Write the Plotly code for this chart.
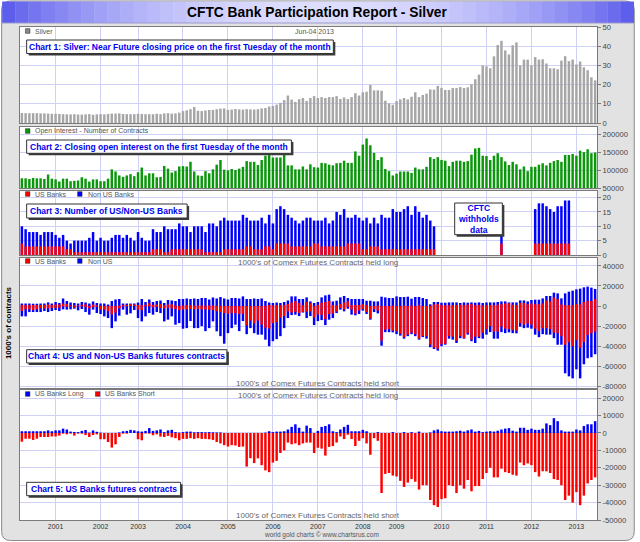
import math
import plotly.graph_objects as go

# ---------------- data ----------------
bars_per_year = [("2000", 9), ("2001", 12), ("2002", 10), ("2003", 12), ("2004", 12),
                 ("2005", 12), ("2006", 12), ("2007", 12), ("2008", 9), ("2009", 12),
                 ("2010", 12), ("2011", 12), ("2012", 12), ("2013", 6)]

silver_price = [
    5.2, 5.1, 5.1, 5.1, 5.1, 5.0, 5.0, 4.9, 4.8,
    4.8, 4.7, 4.6, 4.5, 4.5, 4.6, 4.4, 4.4, 4.5, 4.6, 4.3, 4.5,
    4.6, 4.5, 4.7, 4.9, 4.9, 5.0, 4.7, 4.6, 4.6, 4.6,
    4.8, 4.7, 4.6, 4.6, 4.6, 4.8, 4.6, 5.0, 5.1, 4.9, 5.0, 5.4,
    6.2, 6.6, 7.2, 8.3, 6.4, 6.2, 6.5, 6.8, 6.8, 7.2, 7.5, 7.6,
    6.8, 7.0, 7.3, 7.1, 7.0, 7.2, 7.1, 7.0, 7.2, 7.6, 7.8, 8.6,
    8.9, 9.6, 10.5, 11.9, 14.3, 12.2, 11.0, 12.4, 13.0, 11.5, 13.0, 14.0,
    13.0, 13.5, 13.0, 13.5, 13.5, 14.0, 12.5, 13.3, 12.5, 13.5, 15.5, 14.3,
    16.0, 16.3, 19.8, 17.0, 17.0, 16.8, 11.6, 10.2, 9.5,
    11.4, 12.3, 13.0, 12.3, 13.7, 16.0, 13.5, 14.6, 15.3, 17.5, 17.4, 19.3,
    18.3, 17.2, 17.2, 18.2, 18.2, 18.7, 18.2, 18.6, 20.2, 22.8, 25.2, 30.0,
    29.5, 28.5, 34.7, 40.6, 42.8, 37.8, 35.7, 40.5, 42.0, 30.0, 33.0, 33.0,
    30.0, 34.3, 33.0, 33.2, 31.0, 28.5, 28.5, 28.0, 32.5, 34.8, 32.2, 33.0,
    30.5, 32.0, 29.0, 27.5, 23.8, 22.2,
]

open_interest = [
    77000, 77000, 75000, 78000, 77000, 77000, 75000, 87500, 76000,
    74000, 68000, 76000, 76000, 69000, 70000, 71000, 80000, 76000, 68000, 74000, 74000,
    69000, 69000, 76000, 102000, 96000, 85000, 81000, 85000, 88500, 83000,
    94000, 107000, 85000, 91000, 91000, 80000, 81000, 111500, 104000, 93000, 97000, 110000,
    111000, 110000, 123000, 96000, 85000, 84000, 97000, 91000, 102000, 115000, 128000, 101000,
    99000, 103000, 100000, 104000, 109000, 125000, 123000, 123000, 114000, 128000, 140000, 144000,
    135000, 135000, 135000, 142000, 113000, 113000, 102000, 102000, 110000, 102000, 116000, 108000,
    107000, 120000, 119000, 115000, 113000, 119000, 120000, 126000, 120000, 120000, 152000, 140000,
    171000, 188000, 169000, 148000, 128000, 136000, 103000, 97000, 85000,
    90000, 96000, 96000, 96000, 92000, 107000, 102000, 102000, 109000, 136000, 131000, 136000,
    128000, 126000, 111000, 123000, 126000, 126000, 123000, 125000, 143000, 160000, 162000, 140000,
    139000, 128000, 140000, 147000, 136000, 124000, 114000, 123000, 116000, 102000, 110000, 97000,
    109000, 109000, 115000, 119000, 113000, 120000, 125000, 128000, 123000, 142000, 142000, 145000,
    140000, 154000, 150000, 158000, 147000, 149000,
]

N_ = None
all_banks_count = [
    10, 9, 8, 8, 8, 7, 8, 8, 8,
    7, 6, 7, 5, 4, 5, 5, 5, 5, 6, 8, 5,
    6, 5, 5, 6, 7, 7, 6, 7, 6, 5,
    8, 6, 5, 5, 9, 8, 8, 10, 9, 9, 9, 11,
    10, 10, 8, 10, 10, 10, 8, 11, 11, 10, 12, 13,
    12, 12, 12, 12, 14, 13, 12, 12, 12, 13, 11, 14,
    11, 16, 17, 16, 14, 13, 12, 11, 12, 13, 13, 12,
    12, 12, 13, 11, 12, 15, 14, 16, 13, 13, 14, 13,
    12, 13, 11, 13, 11, 14, 13, 13, 16,
    15, 15, 16, 17, 14, 17, 15, 13, 14, 12, 10, N_,
    N_, N_, N_, N_, N_, N_, N_, N_, N_, N_, N_, N_,
    N_, N_, N_, N_, 12, N_, N_, N_, N_, N_, N_, N_,
    N_, 16, 18, 18, 17, 16, 15, 17, 17, 19, 19, N_,
    N_, N_, N_, N_, N_, N_,
]
us_banks_count = [
    4, 3, 3, 3, 3, 3, 3, 3, 3,
    3, 3, 3, 2, 2, 1, 1, 1, 1, 1, 1, 1,
    1, 1, 1, 1, 1, 1, 1, 1, 1, 1,
    1, 1, 1, 1, 2, 2, 2, 1, 1, 2, 2, 2,
    2, 2, 2, 2, 2, 2, 1, 1, 1, 1, 1, 2,
    2, 2, 2, 2, 2, 3, 3, 2, 2, 2, 3, 3,
    2, 4, 4, 4, 4, 3, 3, 3, 3, 3, 3, 4,
    4, 3, 3, 3, 3, 3, 3, 3, 4, 4, 4, 4,
    2, 2, 3, 3, 3, 2, 2, 2, 2,
    2, 2, 2, 2, 2, 2, 2, 2, 2, 2, 2, N_,
    N_, N_, N_, N_, N_, N_, N_, N_, N_, N_, N_, N_,
    N_, N_, N_, N_, 4, N_, N_, N_, N_, N_, N_, N_,
    N_, 4, 4, 4, 4, 4, 4, 4, 4, 4, 4, N_,
    N_, N_, N_, N_, N_, N_,
]

us_banks_long = [
    1000, 1000, 1000, 1000, 1000, 1000, 1000, 1500, 1000,
    1500, 1500, 2500, 2000, 800, 600, 500, 1200, 1700, 200, 1500, 700,
    200, 0, 0, 0, 0, 300, 1000, 1200, 1800, 1500,
    1000, 800, 1200, 2800, 1200, 1500, 2000, 500, 1500, 1800, 500, 200,
    500, 800, 800, 400, 500, 500, 400, 500, 400, 300, 300, 0,
    0, 0, 0, 0, 0, 0, 0, 0, 0, 0, 200, 1000,
    500, 800, 800, 1000, 2000, 3500, 5000, 3000, 800, 4200, 2800, 0,
    1200, 3500, 4000, 5000, 1000, 500, 2000, 3500, 4700, 1000, 1000, 1000,
    1800, 1000, 0, 0, 500, 0, 0, 0, 500,
    0, 0, 500, 0, 500, 0, 800, 0, 0, 300, 1500, 2000,
    1000, 800, 800, 800, 1000, 1300, 800, 1500, 2000, 800, 1200, 500,
    800, 1000, 800, 1300, 2000, 2500, 2800, 1300, 800, 3000, 3000, 1800,
    2500, 1800, 1800, 2500, 5500, 4500, 8500, 6800, 1500, 800, 800, 800,
    2000, 1500, 4000, 5000, 5000, 6800,
]
us_banks_short = [
    5000, 3300, 3300, 4000, 3300, 2300, 2300, 2300, 2000,
    2000, 1500, 400, 800, 400, 1500, 400, 400, 1200, 2300, 1200, 800,
    3600, 3600, 5200, 8400, 6500, 2300, 400, 400, 0, 0,
    3600, 4200, 300, 400, 1300, 800, 2100, 2300, 1700, 2500, 3000, 4200,
    3400, 3400, 3000, 3400, 3000, 3400, 3400, 3600, 4000, 5200, 6000, 7000,
    7800, 7000, 7200, 8000, 7800, 19300, 14500, 17300, 14600, 18500, 21500, 22500,
    17000, 16000, 11500, 10000, 5500, 6500, 6000, 7000, 6000, 5500, 5500, 11500,
    8500, 9000, 13000, 8000, 7500, 5500, 2000, 3500, 1000, 3500, 7500, 4500,
    3000, 6000, 12500, 3000, 4500, 34500, 23500, 23000, 24500,
    25000, 27500, 31000, 28500, 26500, 28000, 32500, 30000, 30000, 38500, 41500, 42500,
    38000, 37500, 30000, 30500, 34500, 30000, 32000, 27000, 33500, 30500, 30500, 26500,
    23000, 20000, 25500, 25500, 20500, 22500, 23000, 24000, 24500, 17000, 18500, 17500,
    18500, 22500, 25000, 22000, 22000, 23000, 26500, 27000, 30000, 38500, 36000, 40000,
    34000, 41500, 36000, 29000, 27000, 25500,
]
# US + Non-US banks together (chart 4 bar ends)
all_banks_long = [
    2500, 2500, 2500, 2300, 2300, 2500, 2500, 3600, 2500,
    4000, 3000, 7500, 5000, 3500, 3000, 2500, 4000, 3500, 2500, 4500, 3000,
    2500, 2500, 1500, 5000, 6500, 7000, 2500, 2500, 2500, 2500,
    3500, 7000, 4000, 6500, 4000, 5000, 5500, 3000, 6000, 5500, 5000, 7000,
    7000, 7500, 7000, 7500, 7000, 8000, 8000, 6500, 8500, 7500, 9000, 7500,
    6500, 8000, 8000, 7500, 9600, 7000, 7000, 7500, 7000, 7500, 5000, 3500,
    3000, 3500, 3000, 4000, 5500, 9600, 9600, 7000, 7000, 8600, 4600, 3000,
    4000, 8600, 10600, 11300, 4600, 5300, 8600, 10000, 8000, 7000, 7000, 7000,
    7000, 5300, 5300, 4600, 4600, 9300, 8600, 8000, 8000,
    9600, 9000, 9000, 9300, 7300, 9000, 9000, 8000, 7000, 1700, 4000, 4000,
    3300, 3300, 3600, 3600, 3600, 3000, 3600, 3300, 3600, 3300, 3600, 3000,
    3600, 3600, 3600, 4000, 4600, 4600, 3600, 3600, 3600, 5600, 5600, 4600,
    6000, 6300, 6300, 7600, 10000, 10000, 13300, 12600, 7600, 12600, 14300, 15300,
    16600, 17300, 18600, 19300, 18300, 17000,
]
all_banks_short = [
    10300, 10300, 6000, 6000, 6000, 6000, 5000, 6000, 5000,
    4000, 5000, 3300, 3600, 3300, 2700, 4300, 3000, 6000, 8600, 3600, 7000,
    8000, 10300, 12000, 22000, 15300, 9600, 3600, 8600, 7300, 4000,
    12000, 15300, 10300, 7000, 8600, 6000, 7000, 15300, 13600, 10300, 18600, 17000,
    22600, 22000, 15000, 22000, 22000, 20000, 25000, 22000, 15300, 25200, 30000, 37500,
    27000, 22000, 18600, 25000, 15000, 28000, 22000, 27000, 28500, 28500, 33500, 40000,
    35000, 33000, 30000, 22000, 12000, 9000, 8600, 10000, 6500, 12000, 10000, 19000,
    15000, 14000, 19000, 13600, 12000, 7000, 3600, 5300, 2700, 8600, 9300, 8000,
    4600, 8000, 13600, 6000, 7300, 39500, 26000, 26000, 26200,
    28000, 29500, 32500, 30000, 28000, 30000, 33500, 31000, 32500, 41000, 42800, 44400,
    40000, 38500, 32500, 33500, 36800, 32000, 32500, 28500, 35000, 36800, 32000, 32500,
    28500, 26000, 32500, 32500, 26000, 27000, 26200, 27000, 27200, 20600, 22000, 21600,
    22600, 28500, 31000, 28000, 28500, 28500, 32000, 38500, 38500, 67000, 70000, 72000,
    63000, 72000, 58000, 52000, 51000, 48000,
]

# ---------------- geometry helpers ----------------
W, H = 640, 542
ML, MR, MT, MB = 20, 39, 27, 22
PW, PH = W - ML - MR, H - MT - MB


def px(x):
    return (x - ML) / PW


def py(y):
    return (H - MB - y) / PH


idx = []
tick_idx, tick_txt = [], []
pos = 0
for yr, cnt in bars_per_year:
    if yr != "2000":
        tick_idx.append(pos)
        tick_txt.append(yr)
    idx.extend(range(pos, pos + cnt))
    pos += cnt
NB = pos

GRID = "#cfd0f5"
FRAME = "#7a7a7a"
RED = "#ff0000"
BLUE = "#0000ff"
BW = 0.66
FONT = "Liberation Sans, Arial, sans-serif"

fig = go.Figure()
fig.add_trace(go.Bar(x=idx, y=silver_price, width=BW, marker=dict(color="#a6a6a6", line=dict(width=0)),
                     xaxis="x", yaxis="y"))
fig.add_trace(go.Bar(x=idx, y=open_interest, width=BW, marker=dict(color="#0b970b", line=dict(width=0)),
                     xaxis="x2", yaxis="y2"))
fig.add_trace(go.Bar(x=idx, y=all_banks_count, width=BW, marker=dict(color=BLUE, line=dict(width=0)),
                     xaxis="x3", yaxis="y3"))
fig.add_trace(go.Bar(x=idx, y=us_banks_count, width=BW, marker=dict(color=RED, line=dict(width=0)),
                     xaxis="x3", yaxis="y3"))
fig.add_trace(go.Bar(x=idx, y=all_banks_long, width=BW, marker=dict(color=BLUE, line=dict(width=0)),
                     xaxis="x4", yaxis="y4"))
fig.add_trace(go.Bar(x=idx, y=[-v for v in all_banks_short], width=BW, marker=dict(color=BLUE, line=dict(width=0)),
                     xaxis="x4", yaxis="y4"))
fig.add_trace(go.Bar(x=idx, y=us_banks_long, width=BW, marker=dict(color=RED, line=dict(width=0)),
                     xaxis="x4", yaxis="y4"))
fig.add_trace(go.Bar(x=idx, y=[-v for v in us_banks_short], width=BW, marker=dict(color=RED, line=dict(width=0)),
                     xaxis="x4", yaxis="y4"))
fig.add_trace(go.Bar(x=idx, y=us_banks_long, width=BW, marker=dict(color=BLUE, line=dict(width=0)),
                     xaxis="x5", yaxis="y5"))
fig.add_trace(go.Bar(x=idx, y=[-v for v in us_banks_short], width=BW, marker=dict(color=RED, line=dict(width=0)),
                     xaxis="x5", yaxis="y5"))

panels = [  # (top px, bottom px, range, tick values)
    (27, 123, [0, 50], [0, 10, 20, 30, 40, 50]),
    (127, 188, [50000, 220000], [50000, 100000, 150000, 200000]),
    (191, 255, [0, 22.3], [0, 5, 10, 15, 20]),
    (258, 388, [-81600, 47800], [-80000, -60000, -40000, -20000, 0, 20000, 40000]),
    (390, 520, [-50000, 24700], [-50000, -40000, -30000, -20000, -10000, 0, 10000, 20000]),
]

layout = dict(
    width=W, height=H, margin=dict(l=ML, r=MR, t=MT, b=MB, pad=0),
    paper_bgcolor="white", plot_bgcolor="white", barmode="overlay", showlegend=False,
    font=dict(family=FONT, color="#444"), hovermode=False,
)
for k, (top, bot, rng, tv) in enumerate(panels, start=1):
    sx = "" if k == 1 else str(k)
    layout["xaxis" + sx] = dict(
        domain=[0, 1], anchor="y" + sx, range=[-0.5, NB - 0.5],
        tickvals=tick_idx, ticktext=tick_txt, showticklabels=(k == 5),
        tickfont=dict(size=7, color="#333"), ticks="", ticklen=0,
        showgrid=True, gridcolor=GRID, gridwidth=1, zeroline=False,
        showline=True, mirror=True, linecolor=FRAME, linewidth=1,
    )
    if k > 1:
        layout["xaxis" + sx]["matches"] = "x"
    layout["yaxis" + sx] = dict(
        domain=[py(bot), py(top)], anchor="x" + sx, range=rng, side="right",
        tickvals=tv, ticktext=[str(v) for v in tv], tickfont=dict(size=7.6, color="#444"),
        ticks="outside", ticklen=3, tickcolor=FRAME,
        showgrid=True, gridcolor=GRID, gridwidth=1, zeroline=False,
        showline=True, mirror=True, linecolor=FRAME, linewidth=1,
    )
fig.update_layout(**layout)

shapes = []
annotations = []


def rr_path(x0, y0, x1, y1, r):
    def P(x, y):
        return f"{px(x):.5f},{py(y):.5f}"
    return (f"M {P(x0 + r, y0)} L {P(x1 - r, y0)} Q {P(x1, y0)} {P(x1, y0 + r)} "
            f"L {P(x1, y1 - r)} Q {P(x1, y1)} {P(x1 - r, y1)} L {P(x0 + r, y1)} "
            f"Q {P(x0, y1)} {P(x0, y1 - r)} L {P(x0, y0 + r)} Q {P(x0, y0)} {P(x0 + r, y0)} Z")


# outer grey panel
shapes.append(dict(type="path", xref="paper", yref="paper", path=rr_path(1.5, 1, 638.5, 540.5, 9),
                   fillcolor="#e2e2e2", line=dict(color="#8a8a8a", width=1), layer="below"))
# white plotting areas of the five charts
for top, bot, _, _ in panels:
    shapes.append(dict(type="rect", xref="paper", yref="paper", x0=0, x1=1, y0=py(bot), y1=py(top),
                       fillcolor="white", line=dict(width=0), layer="below"))
# title bar gradient
nstrip = 48
x0t, x1t = 2, 638
for s in range(nstrip):
    a = x0t + (x1t - x0t) * s / nstrip
    b = x0t + (x1t - x0t) * (s + 1) / nstrip
    t = (s + 0.5) / nstrip
    w = math.sin(math.pi * t) ** 0.8
    r_ = int(86 + (222 - 86) * w)
    g_ = int(86 + (222 - 86) * w)
    b_ = int(236 + (255 - 236) * w)
    shapes.append(dict(type="rect", xref="paper", yref="paper", x0=px(a), x1=px(b) + 0.0005,
                       y0=py(23), y1=py(1.5), fillcolor=f"rgb({r_},{g_},{b_})",
                       line=dict(width=0), layer="below"))
shapes.append(dict(type="line", xref="paper", yref="paper", x0=px(2), x1=px(638), y0=py(23), y1=py(23),
                   line=dict(color="#9a9ad0", width=1), layer="below"))
annotations.append(dict(text="<b>CFTC Bank Participation Report - Silver</b>", x=px(320), y=py(12),
                        xref="paper", yref="paper", showarrow=False, xanchor="center", yanchor="middle",
                        font=dict(size=13.8, color="#000", family=FONT)))


def legend_item(x, y, color, label):
    shapes.append(dict(type="rect", xref="paper", yref="paper", x0=px(x), x1=px(x + 4.5),
                       y0=py(y + 2.3), y1=py(y - 2.3), fillcolor=color, line=dict(color="#222", width=0.5)))
    annotations.append(dict(text=label, x=px(x + 8), y=py(y), xref="paper", yref="paper", showarrow=False,
                            xanchor="left", yanchor="middle", font=dict(size=7, color="#555", family=FONT)))


legend_item(25.5, 31, "#888888", "Silver")
legend_item(25.5, 131, "#0b970b", "Open Interest - Number of Contracts")
legend_item(25.5, 194, RED, "US Banks")
legend_item(78, 194, BLUE, "Non US Banks")
legend_item(25.5, 261, RED, "US Banks")
legend_item(78, 261, BLUE, "Non US")
legend_item(25.5, 394, BLUE, "US Banks Long")
legend_item(96, 394, RED, "US Banks Short")

annotations.append(dict(text="Jun-04 2013", x=px(317), y=py(31), xref="paper", yref="paper", showarrow=False,
                        xanchor="center", yanchor="middle", font=dict(size=7, color="#555", family=FONT)))

for ytxt, txt in [(262, "1000's of Comex Futures Contracts held long"),
                  (383.5, "1000's of Comex Futures Contracts held short"),
                  (395, "1000's of Comex Futures Contracts held long"),
                  (515.5, "1000's of Comex Futures Contracts held short")]:
    annotations.append(dict(text=txt, x=px(320), y=py(ytxt), xref="paper", yref="paper", showarrow=False,
                            xanchor="center", yanchor="middle", font=dict(size=8, color="#666", family=FONT)))


def titled_box(x0, y0, x1, y1, text, size=8.5):
    shapes.append(dict(type="rect", xref="paper", yref="paper", x0=px(x0 + 2), x1=px(x1 + 2),
                       y0=py(y1 + 2), y1=py(y0 + 2), fillcolor="#3a3a3a", line=dict(width=0)))
    shapes.append(dict(type="rect", xref="paper", yref="paper", x0=px(x0), x1=px(x1),
                       y0=py(y1), y1=py(y0), fillcolor="white", line=dict(color="#333", width=1)))
    annotations.append(dict(text=text, x=px((x0 + x1) / 2), y=py((y0 + y1) / 2), xref="paper", yref="paper",
                            showarrow=False, xanchor="center", yanchor="middle", align="center",
                            font=dict(size=size, color="#0000ee", family=FONT)))


titled_box(26.7, 40, 335.5, 53.5, "<b>Chart 1: Silver: Near Future closing price on the first Tuesday of the month</b>")
titled_box(26.7, 140, 293.3, 153.3, "<b>Chart 2: Closing open interest on the first Tuesday of the month</b>")
titled_box(26.7, 204, 188.3, 218, "<b>Chart 3: Number of US/Non-US Banks</b>")
titled_box(26.7, 349.7, 228.3, 363, "<b>Chart 4: US and Non-US Banks futures contracts</b>")
titled_box(26.7, 482.3, 181.7, 495.7, "<b>Chart 5: US Banks futures contracts</b>")
titled_box(457.7, 203, 505.7, 234.7, "<b>CFTC<br>withholds<br>data</b>")

annotations.append(dict(text="<b>1000's of contracts</b>", x=px(8), y=py(323), xref="paper", yref="paper",
                        showarrow=False, textangle=-90, xanchor="center", yanchor="middle",
                        font=dict(size=8, color="#000", family=FONT)))
annotations.append(dict(text="world gold charts \u00a9 www.chartsrus.com", x=px(324), y=py(535),
                        xref="paper", yref="paper", showarrow=False, xanchor="center", yanchor="middle",
                        font=dict(size=6.5, color="#555", family=FONT)))

fig.update_layout(shapes=shapes, annotations=annotations)
fig.write_html("out.html", config={"displayModeBar": False, "staticPlot": True},
               post_script="document.body.style.margin='0px';document.body.style.overflow='hidden';")
